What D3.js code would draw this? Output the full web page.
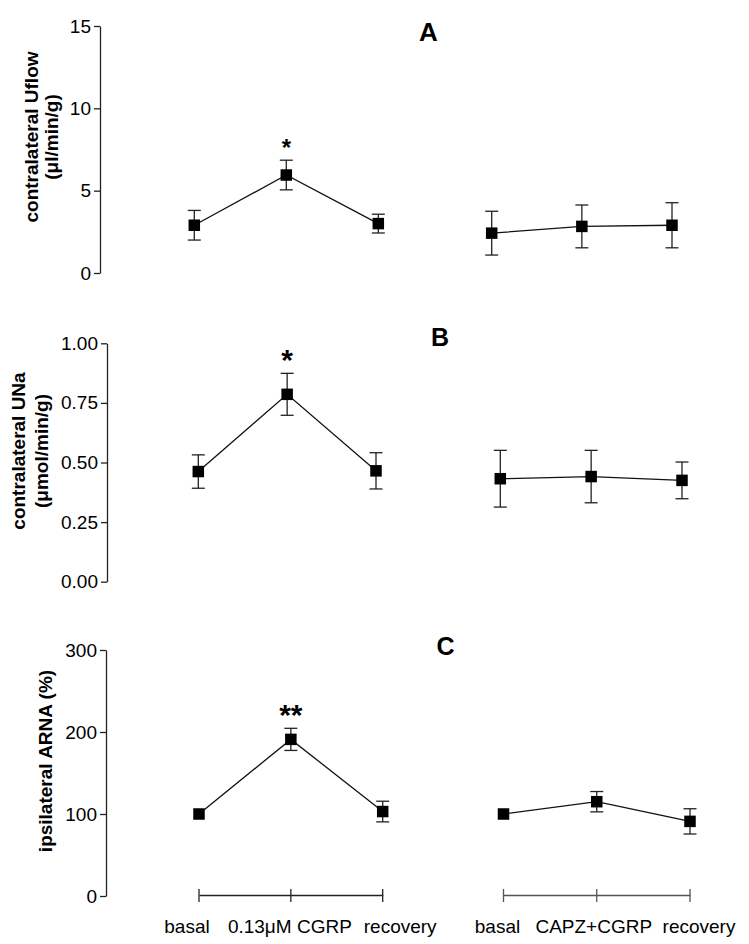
<!DOCTYPE html>
<html>
<head>
<meta charset="utf-8">
<script src="https://cdn.jsdelivr.net/npm/d3@7"></script>
<style>
  html, body { margin: 0; padding: 0; background: #fff; }
  svg { display: block; font-family: "Liberation Sans", Arial, sans-serif; }
</style>
</head>
<body>
<svg id="chart" width="749" height="944"></svg>
<script>
// ---------------- DATA ----------------
const categoriesCGRP = ["basal", "0.13\u03BCM CGRP", "recovery"];
const categoriesCAPZ = ["basal", "CAPZ+CGRP", "recovery"];

// Panel A: contralateral Uflow (µl/min/g)
const uflowCGRP     = [2.90, 5.95, 3.00];
const uflowCGRPErr  = [0.90, 0.90, 0.57];
const uflowCAPZ     = [2.42, 2.83, 2.90];
const uflowCAPZErr  = [1.33, 1.30, 1.37];
const uflowSig      = ["", "*", ""];
const uflowTicks    = [0, 5, 10, 15];

// Panel B: contralateral UNa (µmol/min/g)
const unaCGRP       = [0.462, 0.786, 0.465];
const unaCGRPErr    = [0.070, 0.088, 0.076];
const unaCAPZ       = [0.432, 0.441, 0.425];
const unaCAPZErr    = [0.119, 0.110, 0.077];
const unaSig        = ["", "*", ""];
const unaTicks      = [0, 0.25, 0.5, 0.75, 1.0];

// Panel C: ipsilateral ARNA (%)
const arnaCGRP      = [100, 191, 103];
const arnaCGRPErr   = [0, 13.5, 12.6];
const arnaCAPZ      = [100, 115, 91];
const arnaCAPZErr   = [0, 12.4, 15.4];
const arnaSig       = ["", "**", ""];
const arnaTicks     = [0, 100, 200, 300];

// ---------------- LAYOUT ----------------
const svg = d3.select("#chart");
const FONT = 19;

const panels = [
  { letter: "A", title: ["contralateral Uflow", "(\u03BCl/min/g)"],
    ticks: uflowTicks, fmt: d3.format("d"),
    groups: [[uflowCGRP, uflowCGRPErr, uflowSig], [uflowCAPZ, uflowCAPZErr, ["", "", ""]]],
    axisX: 100, yRange: [273, 26], xLeft: [194.3, 378.3], xRight: [491.7, 672],
    titleX: [38, 58], titleY: 137, letterPos: [428.5, 41], letterSize: 26, sigSize: 24, sigDy: -17 },
  { letter: "B", title: ["contralateral UNa", "(\u03BCmol/min/g)"],
    ticks: unaTicks, fmt: d3.format(".2f"),
    groups: [[unaCGRP, unaCGRPErr, unaSig], [unaCAPZ, unaCAPZErr, ["", "", ""]]],
    axisX: 107, yRange: [581.7, 343.3], xLeft: [198.3, 376], xRight: [500.3, 682],
    titleX: [24.5, 47.5], titleY: 451, letterPos: [440, 346], letterSize: 25, sigSize: 30, sigDy: -20 },
  { letter: "C", title: ["ipsilateral ARNA (%)"],
    ticks: arnaTicks, fmt: d3.format("d"),
    groups: [[arnaCGRP, arnaCGRPErr, arnaSig], [arnaCAPZ, arnaCAPZErr, ["", "", ""]]],
    axisX: 106, yRange: [896, 650], xLeft: [199, 382.7], xRight: [503.5, 690],
    titleX: [52], titleY: 761, letterPos: [445.5, 655], letterSize: 25, sigSize: 30, sigDy: -20 }
];

const SQ = 11.5, CAP = 13;

panels.forEach((p, pi) => {
  const y = d3.scaleLinear().domain([p.ticks[0], p.ticks[p.ticks.length - 1]]).range(p.yRange);
  const xScales = [
    d3.scalePoint().domain(categoriesCGRP).range(p.xLeft),
    d3.scalePoint().domain(categoriesCAPZ).range(p.xRight)
  ];
  const cats = [categoriesCGRP, categoriesCAPZ];

  // y axis
  const yAxis = d3.axisLeft(y).tickValues(p.ticks).tickFormat(p.fmt).tickSize(6).tickPadding(3).tickSizeOuter(0);
  const ga = svg.append("g").attr("transform", `translate(${p.axisX},0)`).call(yAxis);
  ga.select(".domain").attr("stroke", "#222").attr("stroke-width", 1.3);
  ga.selectAll(".tick line").attr("stroke", "#222").attr("stroke-width", 1.3);
  ga.selectAll(".tick text").attr("fill", "#000").style("font-size", FONT + "px")
    .style("font-family", "'Liberation Sans', Arial, sans-serif");

  // y title
  p.title.forEach((t, i) => {
    svg.append("text")
      .attr("transform", `translate(${p.titleX[i]},${p.titleY}) rotate(-90)`)
      .attr("text-anchor", "middle")
      .style("font-size", FONT + "px").style("font-weight", "bold")
      .text(t);
  });

  // panel letter
  svg.append("text").attr("x", p.letterPos[0]).attr("y", p.letterPos[1])
    .attr("text-anchor", "middle").style("font-size", p.letterSize + "px").style("font-weight", "bold")
    .text(p.letter);

  // series
  p.groups.forEach((g, gi) => {
    const [vals, errs, sig] = g;
    const x = xScales[gi];
    const data = cats[gi].map((c, i) => ({ c, v: vals[i], e: errs[i], s: sig[i] }));
    const gg = svg.append("g");
    gg.append("path").datum(data)
      .attr("fill", "none").attr("stroke", "#111").attr("stroke-width", 1.3)
      .attr("d", d3.line().x(d => x(d.c)).y(d => y(d.v)));
    const eb = gg.selectAll(".eb").data(data.filter(d => d.e > 0)).enter().append("g");
    eb.append("line").attr("x1", d => x(d.c)).attr("x2", d => x(d.c))
      .attr("y1", d => y(d.v + d.e)).attr("y2", d => y(d.v - d.e))
      .attr("stroke", "#222").attr("stroke-width", 1.3);
    [1, -1].forEach(sgn => {
      eb.append("line").attr("x1", d => x(d.c) - CAP / 2).attr("x2", d => x(d.c) + CAP / 2)
        .attr("y1", d => y(d.v + sgn * d.e)).attr("y2", d => y(d.v + sgn * d.e))
        .attr("stroke", "#222").attr("stroke-width", 1.3);
    });
    gg.selectAll(".pt").data(data).enter().append("rect")
      .attr("x", d => x(d.c) - SQ / 2).attr("y", d => y(d.v) - SQ / 2)
      .attr("width", SQ).attr("height", SQ).attr("fill", "#000");
    gg.selectAll(".sig").data(data.filter(d => d.s)).enter().append("text")
      .attr("x", d => x(d.c)).attr("y", d => y(d.v + d.e) + p.sigDy + p.sigSize * 0.55)
      .attr("text-anchor", "middle").style("font-size", p.sigSize + "px").style("font-weight", "bold")
      .text(d => d.s);
  });

  // bottom category axes (panel C only)
  if (pi === 2) {
    const labelDx = [[-12, -1, 17.5], [-6, -3, 9]];
    xScales.forEach((x, gi) => {
      const axisColor = gi === 0 ? "#222" : "#555";
      const ax = d3.axisBottom(x).tickSize(0).tickFormat("");
      const gb = svg.append("g").attr("transform", `translate(0,${y(0) - 1})`).call(ax);
      gb.select(".domain").attr("stroke", axisColor).attr("stroke-width", 1.3);
      cats[gi].forEach((c, i) => {
        svg.append("line").attr("x1", x(c)).attr("x2", x(c))
          .attr("y1", y(0) - 7).attr("y2", y(0) + 6)
          .attr("stroke", axisColor).attr("stroke-width", 1.3);
        svg.append("text").attr("x", x(c) + labelDx[gi][i]).attr("y", y(0) + 37)
          .attr("text-anchor", "middle").style("font-size", FONT + "px").text(c);
      });
    });
  }
});
</script>
</body>
</html>
